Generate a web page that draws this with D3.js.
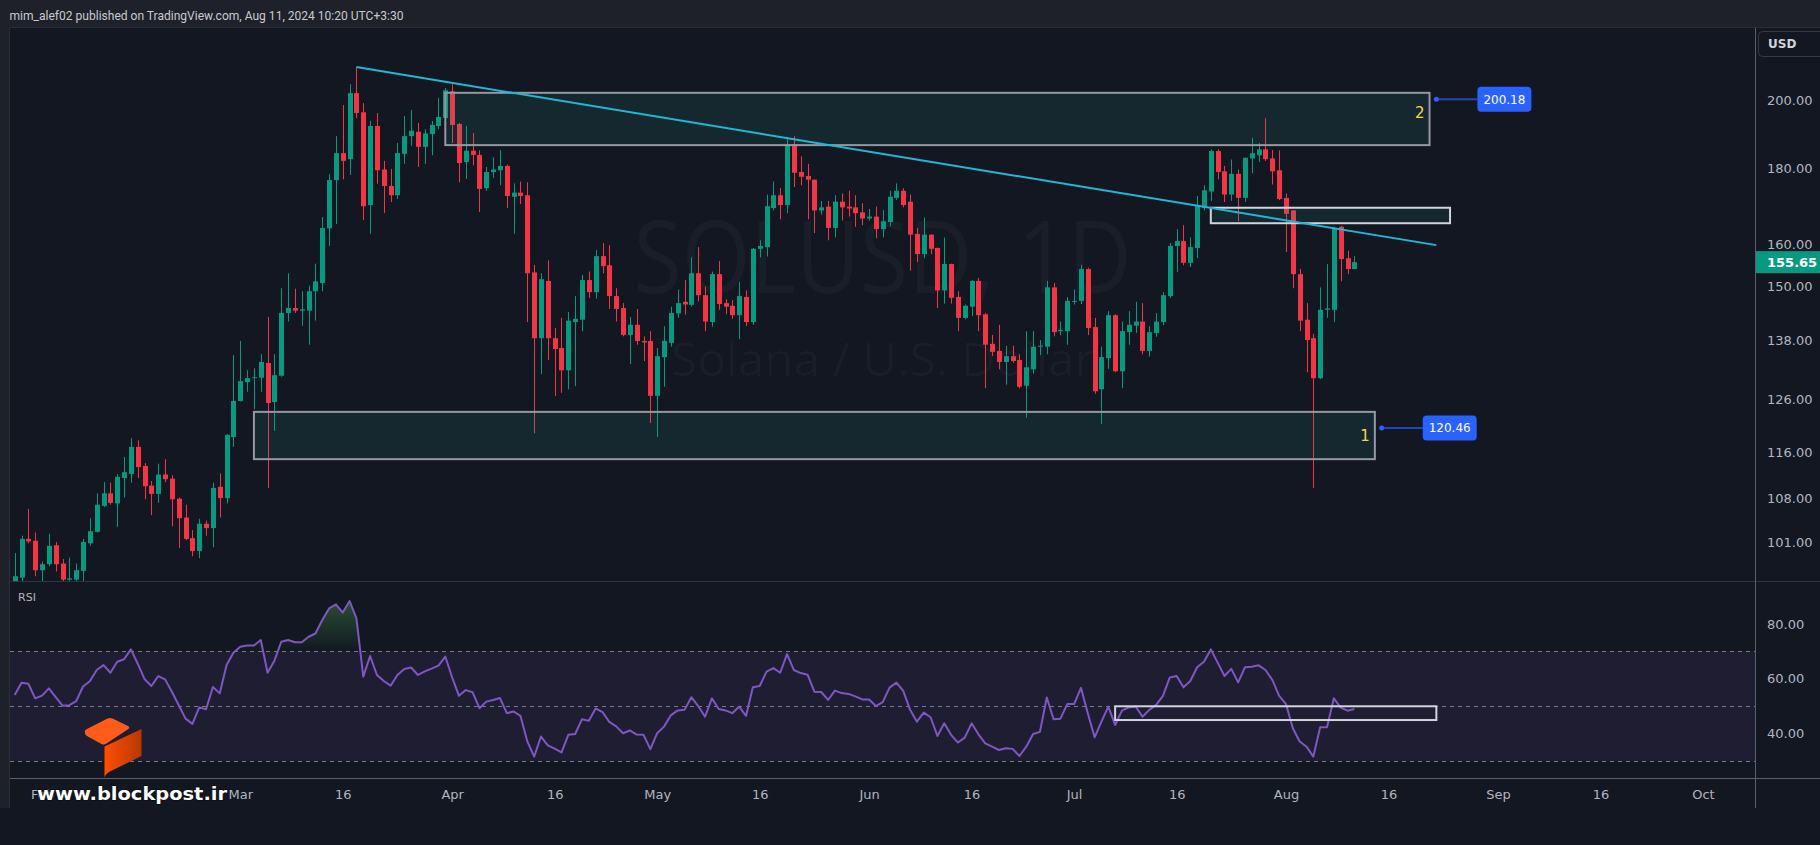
<!DOCTYPE html>
<html>
<head>
<meta charset="utf-8">
<script src="https://cdn.jsdelivr.net/npm/d3@7"></script>
<style>
html, body { margin: 0; padding: 0; background: #131722; }
svg { display: block; }
</style>
</head>
<body>
<svg width="1820" height="845"></svg>
<script>
// SOLUSD daily candles, Jan 28 -> Aug 11 2024 (one value per day)
var firstDay = '2024-01-28';

var opens = [
	95.0, 95.6, 101.5, 101.2, 96.7, 97.6, 100.5, 97.7, 95.3, 95.3,
	96.6, 100.8, 102.6, 106.8, 108.9, 107.2, 111.5, 112.2, 117.0, 113.6,
	110.2, 108.8, 112.1, 111.4, 108.0, 104.9, 101.6, 99.6, 103.9, 103.2,
	110.0, 108.1, 118.8, 125.6, 129.3, 130.1, 130.2, 133.2, 125.4, 130.6,
	143.9, 145.0, 144.4, 144.4, 148.8, 150.7, 164.0, 176.7, 184.2, 182.5,
	202.1, 196.2, 170.0, 192.1, 179.6, 175.1, 172.6, 184.0, 189.1, 190.4,
	186.0, 189.7, 192.1, 194.5, 202.7, 192.7, 181.7, 184.9, 183.7, 174.5,
	178.9, 179.4, 180.6, 172.2, 173.3, 172.6, 153.2, 138.4, 151.2, 138.4,
	136.3, 131.7, 141.9, 142.4, 151.4, 148.6, 157.1, 154.9, 147.7, 145.0,
	139.1, 141.3, 137.8, 137.8, 126.6, 134.4, 137.4, 143.8, 146.4, 145.7,
	153.0, 147.9, 141.9, 152.8, 146.1, 145.5, 143.4, 147.5, 141.9, 158.9,
	159.3, 169.2, 172.6, 170.0, 186.8, 178.9, 177.8, 176.8, 168.6, 169.6,
	164.1, 170.9, 169.6, 169.4, 168.1, 166.5, 167.0, 163.8, 165.6, 171.9,
	173.8, 170.9, 162.6, 157.6, 162.4, 159.1, 149.0, 155.2, 147.5, 142.8,
	145.3, 151.2, 143.6, 137.2, 135.7, 133.4, 134.6, 133.8, 128.6, 131.9,
	136.6, 136.6, 149.7, 139.9, 139.9, 146.4, 146.6, 154.0, 140.8, 127.9,
	134.2, 143.4, 131.5, 139.7, 141.1, 142.0, 135.7, 139.5, 141.9, 147.7,
	159.6, 160.8, 155.5, 159.1, 169.2, 173.6, 184.8, 179.1, 172.8, 178.4,
	171.9, 182.7, 183.6, 185.3, 182.7, 179.4, 171.9, 168.6, 152.8, 142.4,
	138.4, 130.1, 144.6, 144.6, 164.4, 156.6, 154.0
];
var highs = [
	99.3, 102.0, 106.3, 102.5, 98.0, 102.3, 101.0, 98.4, 98.6, 97.7,
	101.5, 104.8, 108.9, 110.8, 110.7, 112.2, 115.2, 118.6, 118.2, 114.1,
	111.0, 114.0, 114.8, 112.0, 108.2, 107.0, 102.9, 104.7, 104.4, 110.7,
	112.3, 119.3, 134.8, 137.8, 131.7, 132.1, 135.0, 143.0, 135.0, 149.5,
	153.0, 149.4, 148.8, 150.1, 155.3, 166.9, 178.3, 189.1, 198.4, 204.9,
	210.4, 199.0, 193.6, 196.0, 182.0, 179.8, 187.1, 195.1, 196.9, 193.0,
	191.1, 193.6, 200.6, 203.7, 204.9, 193.0, 192.1, 190.0, 185.0, 180.3,
	183.0, 185.1, 181.0, 175.8, 176.3, 176.1, 155.0, 153.0, 156.1, 140.6,
	142.8, 144.1, 147.7, 152.6, 153.4, 158.6, 160.3, 159.8, 149.5, 146.1,
	143.0, 144.8, 138.8, 139.9, 136.3, 141.0, 145.3, 149.2, 151.4, 156.8,
	159.3, 149.9, 153.4, 155.9, 147.0, 146.8, 151.0, 149.0, 159.1, 161.0,
	172.8, 176.3, 174.5, 188.8, 189.1, 183.3, 181.2, 176.9, 171.1, 171.1,
	172.6, 173.1, 173.8, 172.6, 170.5, 169.0, 169.6, 168.7, 173.8, 175.8,
	174.5, 172.8, 164.1, 166.8, 162.5, 159.2, 161.7, 155.3, 148.8, 145.8,
	151.4, 151.9, 143.9, 139.1, 141.3, 136.8, 136.8, 135.0, 139.9, 139.9,
	138.0, 151.2, 150.7, 142.0, 147.5, 149.2, 155.0, 154.3, 142.8, 136.6,
	144.3, 143.6, 142.0, 144.3, 146.4, 146.1, 141.0, 143.9, 148.6, 160.3,
	163.8, 164.8, 161.7, 172.4, 175.3, 185.3, 185.3, 180.6, 182.4, 179.6,
	182.9, 188.6, 187.1, 194.4, 185.1, 185.0, 173.1, 168.7, 154.0, 146.1,
	139.3, 149.7, 155.2, 164.4, 164.6, 158.4, 157.1
];
var lows = [
	93.5, 95.0, 100.8, 95.8, 95.0, 97.3, 96.5, 94.8, 94.8, 94.9,
	95.0, 100.4, 102.5, 106.6, 107.0, 103.4, 108.2, 110.7, 111.5, 107.9,
	105.3, 107.3, 110.8, 103.5, 100.1, 101.3, 98.8, 98.5, 102.0, 100.2,
	104.9, 107.2, 117.0, 125.5, 127.4, 124.0, 127.4, 109.8, 119.9, 130.4,
	142.0, 143.9, 141.1, 137.0, 142.2, 148.8, 159.6, 165.1, 176.9, 178.1,
	194.4, 166.1, 162.6, 175.7, 167.9, 170.8, 171.6, 181.2, 186.3, 180.3,
	181.2, 183.6, 191.1, 193.5, 187.1, 176.1, 177.0, 180.8, 168.2, 173.8,
	177.3, 175.3, 169.2, 162.6, 170.3, 141.9, 119.5, 130.9, 133.8, 126.6,
	127.2, 127.9, 128.5, 139.9, 147.3, 147.1, 153.0, 144.8, 142.0, 138.8,
	133.0, 137.0, 133.6, 121.4, 118.8, 128.4, 136.6, 142.8, 143.5, 145.3,
	146.5, 139.9, 140.9, 144.6, 143.6, 142.6, 138.2, 141.0, 141.3, 156.8,
	157.0, 168.6, 166.3, 167.9, 174.8, 175.3, 166.3, 162.8, 167.5, 161.0,
	161.7, 166.0, 167.0, 164.4, 164.8, 166.0, 161.5, 161.7, 164.5, 171.4,
	169.4, 153.6, 155.7, 156.6, 157.6, 145.0, 146.0, 146.0, 139.9, 142.5,
	143.2, 139.9, 128.1, 134.6, 131.9, 128.8, 133.2, 128.1, 122.4, 131.0,
	134.8, 135.0, 138.8, 139.0, 137.0, 145.8, 145.9, 139.1, 127.0, 121.2,
	132.0, 131.3, 128.1, 137.0, 139.5, 135.0, 134.5, 138.7, 141.2, 147.3,
	153.3, 154.9, 154.5, 156.6, 168.6, 171.1, 176.9, 170.8, 171.1, 165.8,
	170.8, 178.6, 181.7, 182.0, 175.5, 171.3, 158.1, 149.5, 139.9, 131.3,
	109.8, 129.9, 142.8, 141.9, 151.1, 152.8, 154.0
];
var closes = [
	95.8, 101.5, 101.1, 96.7, 97.6, 100.4, 97.6, 95.3, 95.5, 96.7,
	101.0, 102.7, 107.0, 108.9, 107.3, 111.7, 112.5, 117.0, 113.4, 110.1,
	108.8, 112.1, 111.3, 107.9, 104.8, 101.5, 99.6, 103.9, 103.2, 109.8,
	108.1, 119.2, 125.6, 129.5, 130.1, 130.3, 133.4, 125.2, 130.7, 143.9,
	145.0, 144.4, 144.7, 148.8, 151.1, 164.1, 176.7, 184.2, 182.0, 202.1,
	196.0, 169.7, 192.1, 179.4, 175.1, 172.6, 184.2, 189.1, 190.7, 186.0,
	189.9, 192.4, 194.8, 203.0, 192.4, 181.4, 184.9, 183.7, 174.3, 178.9,
	179.6, 180.6, 172.4, 173.3, 172.4, 153.0, 138.4, 151.6, 138.4, 136.1,
	131.7, 142.2, 142.6, 151.4, 148.6, 157.1, 154.7, 147.7, 144.8, 139.1,
	141.3, 137.8, 137.5, 126.6, 134.6, 137.8, 143.9, 146.1, 145.8, 153.0,
	147.9, 142.0, 152.8, 145.9, 145.3, 143.4, 147.7, 141.9, 158.9, 159.6,
	169.7, 172.6, 170.0, 186.5, 178.7, 177.6, 176.8, 168.6, 169.4, 164.1,
	170.9, 169.4, 169.1, 167.9, 166.5, 167.0, 163.8, 165.8, 172.2, 173.8,
	170.0, 162.4, 157.6, 162.4, 158.9, 149.0, 155.2, 147.3, 142.8, 145.5,
	151.2, 143.4, 137.0, 135.5, 133.4, 134.6, 133.6, 128.4, 132.3, 136.6,
	136.8, 149.7, 139.7, 140.2, 146.6, 146.6, 154.0, 140.6, 127.5, 134.4,
	143.4, 131.5, 139.9, 141.3, 142.0, 135.7, 139.7, 142.0, 147.9, 159.6,
	160.8, 155.5, 159.3, 169.7, 173.9, 184.8, 178.9, 172.8, 178.4, 171.9,
	182.9, 184.2, 185.3, 182.5, 179.1, 171.6, 167.7, 152.8, 142.2, 138.0,
	130.1, 144.6, 144.9, 164.1, 156.4, 154.0, 155.65
];
var rsiValues = [
	54.1, 58.6, 58.2, 52.9, 53.9, 56.5, 53.3, 50.2, 50.4, 51.9,
	57.2, 59.1, 63.2, 65.0, 62.2, 66.2, 67.1, 70.7, 65.5, 59.9,
	57.4, 61.0, 59.8, 55.3, 50.4, 45.5, 43.6, 49.6, 48.9, 57.0,
	54.7, 65.0, 69.5, 71.7, 72.1, 72.1, 74.1, 62.2, 66.6, 73.5,
	74.1, 73.3, 73.3, 75.3, 76.5, 81.4, 85.6, 87.1, 84.1, 88.3,
	82.0, 60.8, 68.3, 61.4, 59.2, 57.5, 61.4, 63.6, 64.1, 61.4,
	62.7, 63.7, 64.8, 68.1, 60.5, 53.8, 55.9, 55.1, 49.3, 51.7,
	52.3, 53.0, 47.5, 48.1, 46.5, 37.2, 31.7, 39.0, 35.8, 34.6,
	33.2, 39.6, 39.9, 45.3, 44.7, 49.2, 47.9, 44.3, 42.7, 40.2,
	41.2, 39.7, 39.6, 34.4, 40.2, 42.6, 46.7, 48.5, 48.7, 53.3,
	50.1, 46.2, 52.9, 49.0, 48.5, 47.5, 49.9, 46.5, 56.9, 57.4,
	62.6, 63.9, 62.2, 69.0, 63.2, 62.1, 61.5, 55.3, 55.2, 52.3,
	55.7, 54.8, 54.5, 53.6, 52.5, 52.5, 50.1, 51.5, 56.8, 58.6,
	55.6, 48.7, 44.4, 47.7, 46.0, 39.2, 43.8, 39.6, 36.8, 38.6,
	43.8, 39.8, 36.5, 35.3, 34.1, 34.7, 34.5, 31.9, 35.3, 39.9,
	40.7, 53.2, 45.3, 45.5, 50.8, 50.8, 56.7, 47.5, 38.7, 44.4,
	49.9, 43.2, 48.4, 49.6, 49.9, 46.2, 48.7, 50.5, 53.8, 60.5,
	61.0, 56.9, 59.2, 64.2, 66.2, 70.7, 65.9, 61.0, 63.6, 58.7,
	64.2, 64.4, 64.9, 63.2, 59.6, 53.8, 50.8, 42.0, 37.2, 35.3,
	31.7, 42.4, 42.4, 52.9, 49.5, 48.4, 49.0
];
var lastPrice = 155.65;

var priceTicks = [200, 180, 160, 150, 138, 126, 116, 108, 101];
var rsiTicks = [80, 60, 40];
var rsiLevels = [70, 50, 30];
var timeTicks = ['2024-02-01', '2024-03-01', '2024-03-16', '2024-04-01', '2024-04-16', '2024-05-01',
	'2024-05-16', '2024-06-01', '2024-06-16', '2024-07-01', '2024-07-16', '2024-08-01',
	'2024-08-16', '2024-09-01', '2024-09-16', '2024-10-01'];
var timeLabels = ['Feb', 'Mar', '16', 'Apr', '16', 'May', '16', 'Jun', '16', 'Jul', '16', 'Aug', '16', 'Sep', '16', 'Oct'];

// drawings on the chart
var boxStart = ['2024-03-31', '2024-03-03', '2024-07-21'];
var boxEnd = ['2024-08-22', '2024-08-14', '2024-08-25'];
var boxHigh = [202.2, 123.5, 169.3];
var boxLow = [186.5, 114.8, 165.3];
var boxTag = ['2', '1', ''];
var boxTagPrice = [196.2, 119.1, 0];
var trendDates = ['2024-03-18', '2024-08-23'];
var trendPrices = [210.4, 159.8];
var calloutDates = ['2024-08-23', '2024-08-15'];
var calloutLabelDates = ['2024-08-29', '2024-08-21'];
var calloutPrices = [200.18, 120.46];
var rsiBoxDates = ['2024-07-07', '2024-08-23'];
var rsiBoxLevels = [50, 45];

var parse = d3.utcParse('%Y-%m-%d');
var t0 = parse(firstDay).getTime();
function dayAt(i) { return new Date(t0 + i * 864e5); }

var svg = d3.select('svg');
var W = 1820, H = 845;
var paneL = 10, paneR = 1755, priceTop = 28, priceBot = 581, rsiBot = 778, axisBot = 808;

var x = d3.scaleUtc()
	.domain([parse('2024-01-28'), parse('2024-08-01')])
	.range([14.7, 1286]);
var y = d3.scaleLog()
	.domain([95.1, 223.5])
	.range([priceBot, priceTop]);
var yr = d3.scaleLinear()
	.domain([23.9, 95.6])
	.range([rsiBot, priceBot]);

// frame
svg.append('rect').attr('width', W).attr('height', H).attr('fill', '#1e2129');
svg.append('rect').attr('x', paneL).attr('y', priceTop).attr('width', W - paneL).attr('height', axisBot - priceTop).attr('fill', '#131722');
svg.append('rect').attr('x', 0).attr('y', axisBot).attr('width', W).attr('height', H - axisBot).attr('fill', '#131722');
svg.append('line').attr('x1', paneL - 0.5).attr('x2', paneL - 0.5).attr('y1', priceTop).attr('y2', axisBot).attr('stroke', '#2a2e39');
svg.append('line').attr('x1', paneL).attr('x2', W).attr('y1', priceTop - 0.5).attr('y2', priceTop - 0.5).attr('stroke', '#2a2e39');

svg.append('text')
	.attr('x', 9.5).attr('y', 15).attr('dy', '0.35em')
	.attr('font-family', 'Roboto, sans-serif').attr('font-size', 13)
	.attr('fill', '#c8cad0')
	.attr('textLength', 394).attr('lengthAdjust', 'spacingAndGlyphs')
	.text('mim_alef02 published on TradingView.com, Aug 11, 2024 10:20 UTC+3:30');

var defs = svg.append('defs');
defs.append('clipPath').attr('id', 'clipPrice').append('rect')
	.attr('x', paneL).attr('y', priceTop).attr('width', paneR - paneL).attr('height', priceBot - priceTop);
defs.append('clipPath').attr('id', 'clipRsi').append('rect')
	.attr('x', paneL).attr('y', priceBot).attr('width', paneR - paneL).attr('height', rsiBot - priceBot);
defs.append('clipPath').attr('id', 'clipOB').append('rect')
	.attr('x', paneL).attr('y', priceBot).attr('width', paneR - paneL).attr('height', yr(70) - priceBot);
var grad = defs.append('linearGradient').attr('id', 'obGrad')
	.attr('gradientUnits', 'userSpaceOnUse').attr('x1', 0).attr('x2', 0).attr('y1', yr(100)).attr('y2', yr(70));
grad.append('stop').attr('offset', 0).attr('stop-color', 'rgb(76,175,80)').attr('stop-opacity', 0.6);
grad.append('stop').attr('offset', 1).attr('stop-color', 'rgb(76,175,80)').attr('stop-opacity', 0);

// ---- price pane ----
var pg = svg.append('g').attr('clip-path', 'url(#clipPrice)');
var mid = (paneL + paneR) / 2;
pg.append('text')
	.attr('x', mid).attr('y', 293).attr('text-anchor', 'middle')
	.attr('font-family', '"Open Sans", sans-serif').attr('font-size', 100)
	.attr('fill', 'rgba(255,255,255,0.032)')
	.attr('textLength', 498).attr('lengthAdjust', 'spacingAndGlyphs')
	.text('SOLUSD, 1D');
pg.append('text')
	.attr('x', mid).attr('y', 376).attr('text-anchor', 'middle')
	.attr('font-family', '"Open Sans", sans-serif').attr('font-size', 46)
	.attr('fill', 'rgba(255,255,255,0.032)')
	.attr('textLength', 423).attr('lengthAdjust', 'spacingAndGlyphs')
	.text('Solana / U.S. Dollar');

var candles = pg.append('g').selectAll('g')
	.data(closes.map(function (c, i) {
		return { date: dayAt(i), o: opens[i], h: highs[i], l: lows[i], c: c };
	}))
	.join('g')
	.attr('fill', function (d) { return d.c >= d.o ? '#089981' : '#f23645'; });
candles.append('rect')
	.attr('x', function (d) { return Math.round(x(d.date)); })
	.attr('width', 1)
	.attr('y', function (d) { return y(d.h); })
	.attr('height', function (d) { return Math.max(1, y(d.l) - y(d.h)); });
candles.append('rect')
	.attr('x', function (d) { return Math.round(x(d.date)) - 2; })
	.attr('width', 5)
	.attr('y', function (d) { return y(Math.max(d.o, d.c)); })
	.attr('height', function (d) { return Math.max(1, Math.abs(y(d.o) - y(d.c))); });

// boxes
boxHigh.forEach(function (hi, i) {
	var x0 = x(parse(boxStart[i])), x1 = x(parse(boxEnd[i]));
	pg.append('rect')
		.attr('x', x0).attr('y', y(hi))
		.attr('width', x1 - x0).attr('height', y(boxLow[i]) - y(hi))
		.attr('fill', 'rgba(38,166,154,0.12)')
		.attr('stroke', i === 2 ? '#d1d4dc' : '#9598a1').attr('stroke-width', 2);
	if (boxTag[i]) {
		pg.append('text')
			.attr('x', x1 - 5).attr('y', y(boxTagPrice[i])).attr('dy', '0.35em')
			.attr('text-anchor', 'end')
			.attr('font-family', '"DejaVu Sans", sans-serif').attr('font-size', 15)
			.attr('fill', '#f7d64a').text(boxTag[i]);
	}
});

// trend line
pg.append('line')
	.attr('x1', x(parse(trendDates[0]))).attr('y1', y(trendPrices[0]))
	.attr('x2', x(parse(trendDates[1]))).attr('y2', y(trendPrices[1]))
	.attr('stroke', '#1fb8d6').attr('stroke-width', 2);

// price callouts
calloutPrices.forEach(function (p, i) {
	var xa = x(parse(calloutDates[i])), xl = x(parse(calloutLabelDates[i])), yy = y(p);
	pg.append('line').attr('x1', xa).attr('x2', xl).attr('y1', yy).attr('y2', yy)
		.attr('stroke', '#2046b8').attr('stroke-width', 2);
	pg.append('circle').attr('cx', xa).attr('cy', yy).attr('r', 2.5).attr('fill', '#2962ff');
	pg.append('rect').attr('x', xl).attr('y', yy - 12.5).attr('width', 54).attr('height', 25)
		.attr('rx', 4).attr('fill', '#2962ff');
	pg.append('text').attr('x', xl + 27).attr('y', yy).attr('dy', '0.35em')
		.attr('text-anchor', 'middle')
		.attr('font-family', '"DejaVu Sans", sans-serif').attr('font-size', 12)
		.attr('fill', '#ffffff').text(d3.format('.2f')(p));
});

// ---- RSI pane ----
var rg = svg.append('g').attr('clip-path', 'url(#clipRsi)');
rg.append('rect')
	.attr('x', paneL).attr('y', yr(70)).attr('width', paneR - paneL).attr('height', yr(30) - yr(70))
	.attr('fill', 'rgba(126,87,194,0.1)');
rg.selectAll('line.lvl').data(rsiLevels).join('line')
	.attr('class', 'lvl')
	.attr('x1', paneL).attr('x2', paneR)
	.attr('y1', function (d) { return Math.round(yr(d)) + 0.5; })
	.attr('y2', function (d) { return Math.round(yr(d)) + 0.5; })
	.attr('stroke', '#787b86').attr('stroke-dasharray', '4,4');

rg.append('path')
	.datum(rsiValues)
	.attr('clip-path', 'url(#clipOB)')
	.attr('fill', 'url(#obGrad)')
	.attr('d', d3.area()
		.x(function (d, i) { return x(dayAt(i)); })
		.y0(yr(70))
		.y1(function (d) { return yr(d); }));
rg.append('path')
	.datum(rsiValues)
	.attr('fill', 'none').attr('stroke', '#7e57c2').attr('stroke-width', 2)
	.attr('stroke-linejoin', 'round')
	.attr('d', d3.line()
		.x(function (d, i) { return x(dayAt(i)); })
		.y(function (d) { return yr(d); }));
var rx0 = x(parse(rsiBoxDates[0])), rx1 = x(parse(rsiBoxDates[1]));
rg.append('rect')
	.attr('x', rx0).attr('y', yr(rsiBoxLevels[0]))
	.attr('width', rx1 - rx0).attr('height', yr(rsiBoxLevels[1]) - yr(rsiBoxLevels[0]))
	.attr('fill', 'none').attr('stroke', '#d1d4dc').attr('stroke-width', 2);

svg.append('text').attr('x', 18).attr('y', 597).attr('dy', '0.35em')
	.attr('font-family', '"DejaVu Sans", sans-serif').attr('font-size', 11)
	.attr('fill', '#b2b5be').text('RSI');

// separators
svg.append('line').attr('x1', paneL).attr('x2', W).attr('y1', priceBot + 0.5).attr('y2', priceBot + 0.5).attr('stroke', '#2f3340');
svg.append('line').attr('x1', paneL).attr('x2', W).attr('y1', rsiBot + 0.5).attr('y2', rsiBot + 0.5).attr('stroke', '#5d606b');
svg.append('line').attr('x1', paneR + 0.5).attr('x2', paneR + 0.5).attr('y1', priceTop).attr('y2', axisBot).attr('stroke', '#5d606b');

// axes
function styleAxis(g) {
	g.select('.domain').remove();
	g.attr('font-family', '"DejaVu Sans", sans-serif').attr('font-size', 13).attr('color', '#b2b5be');
}
svg.append('g')
	.attr('transform', 'translate(' + paneR + ',0)')
	.call(d3.axisRight(y).tickValues(priceTicks).tickFormat(d3.format('.2f')).tickSize(0).tickPadding(12))
	.call(styleAxis);
svg.append('g')
	.attr('transform', 'translate(' + paneR + ',0)')
	.call(d3.axisRight(yr).tickValues(rsiTicks).tickFormat(d3.format('.2f')).tickSize(0).tickPadding(12))
	.call(styleAxis);
svg.append('g')
	.attr('transform', 'translate(0,' + rsiBot + ')')
	.call(d3.axisBottom(x).tickValues(timeTicks.map(parse))
		.tickFormat(function (d, i) { return timeLabels[i]; }).tickSize(0).tickPadding(12))
	.call(styleAxis);

// last price tag
svg.append('rect').attr('x', paneR + 1).attr('y', y(lastPrice) - 11).attr('width', W - paneR - 1).attr('height', 22)
	.attr('fill', '#089981');
svg.append('text').attr('x', paneR + 12).attr('y', y(lastPrice)).attr('dy', '0.35em')
	.attr('font-family', '"DejaVu Sans", sans-serif').attr('font-size', 13).attr('font-weight', 'bold')
	.attr('fill', '#ffffff').text(d3.format('.2f')(lastPrice));

// currency button
svg.append('rect').attr('x', 1758.5).attr('y', 31.5).attr('width', 66).attr('height', 25).attr('rx', 4)
	.attr('fill', 'none').attr('stroke', '#363a45');
svg.append('text').attr('x', 1768).attr('y', 44).attr('dy', '0.35em')
	.attr('font-family', '"DejaVu Sans", sans-serif').attr('font-size', 12).attr('font-weight', 'bold')
	.attr('fill', '#d1d4dc').text('USD');

// blockpost logo
var lg = defs.append('linearGradient').attr('id', 'logoGrad').attr('x1', 0).attr('x2', 1).attr('y1', 0).attr('y2', 0);
lg.append('stop').attr('offset', 0).attr('stop-color', '#ff4e00');
lg.append('stop').attr('offset', 1).attr('stop-color', '#b83800');
svg.append('path')
	.attr('d', 'M85,733 Q84,730.5 87,729 L107.5,718.5 Q110,717.3 112.5,718.5 L128,726 Q130.5,727.6 128,729.3 L106.5,743.6 Q104,745.2 101.5,744 L87,736 Q85,735 85,733 Z')
	.attr('fill', '#ff5c1c');
svg.append('path')
	.attr('d', 'M104.5,746.5 L141.5,729 L141.5,756 L110,771.5 Q105.5,774 104.5,777.5 Z')
	.attr('fill', 'url(#logoGrad)');
svg.append('text')
	.attr('x', 37).attr('y', 800)
	.attr('font-family', '"DejaVu Sans", sans-serif').attr('font-size', 18).attr('font-weight', 'bold')
	.attr('fill', '#ffffff').attr('stroke', '#0b0d12').attr('stroke-width', 1.5).attr('paint-order', 'stroke')
	.attr('textLength', 190).attr('lengthAdjust', 'spacingAndGlyphs')
	.text('www.blockpost.ir');
</script>
</body>
</html>
